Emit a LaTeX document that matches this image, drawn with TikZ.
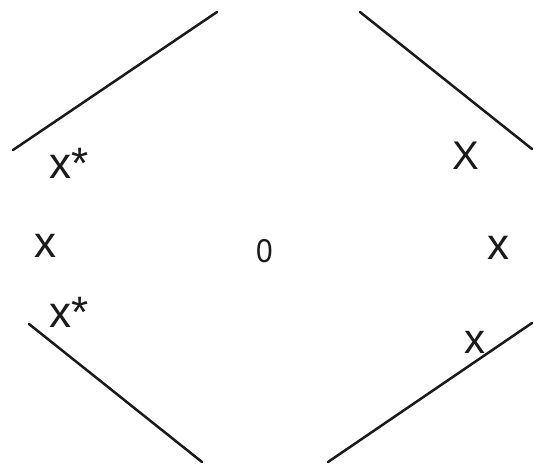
\documentclass[tikz,border=0pt]{standalone}
\usepackage{fontspec}
\setmainfont{Liberation Sans}
\usetikzlibrary{positioning}
\definecolor{ink}{HTML}{1A1A1A}
\tikzset{seg/.style={ink,line width=2.5pt,line cap=round},
  lbl/.style={ink,inner sep=0pt,anchor=base west,font=\fontsize{44}{44}\selectfont}}
\begin{document}
\begin{tikzpicture}[x=1pt,y=-1pt]
  \useasboundingbox (0,0) rectangle (534,466);
  \coordinate (tl1) at (13,150);\coordinate (tl2) at (217,12);
  \coordinate (tr1) at (360,12);\coordinate (tr2) at (532,149);
  \coordinate (bl1) at (29,324);\coordinate (bl2) at (202,462);
  \coordinate (br1) at (328,462);\coordinate (br2) at (532,323);
  \draw[seg] (tl1)--(tl2) (tr1)--(tr2) (bl1)--(bl2) (br1)--(br2);
  \node[lbl] (xsu) at (49,178) {x*};
  \node[lbl] (xl) at (34,257) {x};
  \node[lbl] (xsd) at (49,327) {x*};
  \node[lbl,font=\fontsize{40}{40}\selectfont] (Xr) at (452,169) {X};
  \node[lbl] (xr) at (487,259) {x};
  \node[lbl,font=\fontsize{42}{42}\selectfont] (xbr) at (464,353) {x};
  \node[lbl,font=\fontsize{33}{33}\selectfont,xscale=0.9] (zero) at (256,262) {0};
\end{tikzpicture}
\end{document}
